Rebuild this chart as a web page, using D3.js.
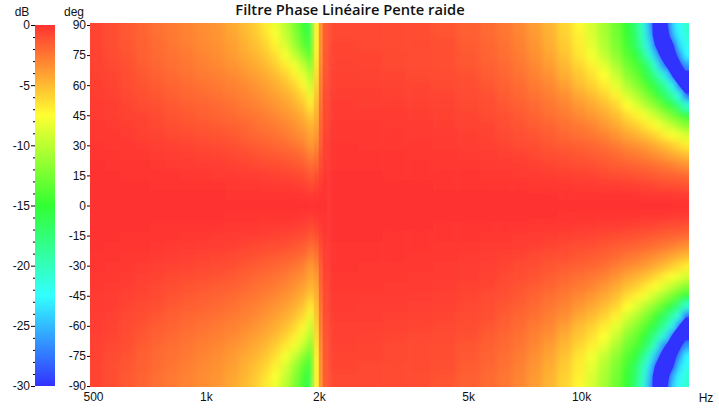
<!DOCTYPE html>
<html><head><meta charset="utf-8">
<script src="https://cdn.jsdelivr.net/npm/d3@7"></script>
<style>
html,body{margin:0;padding:0;background:#fff}
svg{display:block}
text{font-family:"Liberation Sans",Arial,sans-serif;font-size:12px;fill:#111}
</style></head><body>
<svg id="c" width="719" height="410"></svg>
<script>
const title = "Filtre Phase Linéaire Pente raide";
const freqTicks = [500,1000,2000,5000,10000];
const freqTickLabels = ["500","1k","2k","5k","10k"];
const angleTicks = [90,75,60,45,30,15,0,-15,-30,-45,-60,-75,-90];
const dbMajorTicks = [0,-5,-10,-15,-20,-25,-30];
const dbStops = [0,-7.5,-15,-22.5,-30];
const stopColors = ["#ff3232","#ffff32","#32ff32","#32ffff","#3232ff"];
// frequency of each column (Hz)
const frequencies = [522,572,627,688,754,827,907,994,1090,1195,1294,1376,1463,1555,1654,1758,1847,1952,
  2012,2062,2113,
  2179,2390,2786,3247,3785,4413,5144,5815,6375,6990,7665,8405,9215,10100,10870,11700,12595,13560,14240,14955,15520,16100,16705,17330,17975,18650,19350];
// columns that form the sharp cross-over notch
const notchFrequencies = [2012,2062,2113];
// off-axis angle of each row (deg) - the response is mirrored around 0
const angles = [90,85,80,75,70,65,60,55,50,45,40,35,30,25,20,15,10,5,0];
// level in dB, one row per angle, one value per frequency
const levels = [
[-.7,-1,-1.4,-1.8,-2.3,-2.6,-3,-3.3,-3.7,-4.3,-5,-5.7,-6.7,-8.2,-10,-12.2,-14.6,-16.5,-7,-3.5,-1.5,-.8,-.8,-.8,-.9,-1,-1.3,-1.7,-2,-2.5,-3.1,-3.9,-4.8,-6,-7.3,-9,-10.8,-12.8,-15,-17.5,-21,-26,-35,-35,-30,-23.5,-22.5,-20.5],
[-.7,-1,-1.4,-1.8,-2.2,-2.6,-2.9,-3.3,-3.6,-4.2,-4.8,-5.5,-6.4,-7.6,-9.4,-11.7,-14.2,-16,-7,-3.5,-1.5,-.8,-.8,-.8,-.9,-1,-1.2,-1.6,-2,-2.5,-3,-3.8,-4.7,-5.8,-7,-8.8,-10.6,-12.6,-14.8,-17,-20.5,-25,-35,-35,-32,-25,-22.5,-21],
[-.7,-1,-1.3,-1.7,-2.1,-2.5,-2.8,-3.2,-3.5,-4,-4.6,-5.2,-5.9,-7,-8.8,-11,-13.4,-15.5,-7,-3.4,-1.5,-.7,-.7,-.8,-.9,-.9,-1.1,-1.5,-1.9,-2.3,-2.9,-3.6,-4.5,-5.6,-6.8,-8.4,-10.2,-12.2,-14.5,-16.8,-19.8,-23.5,-31,-35,-35,-30,-23.5,-22],
[-.6,-.9,-1.2,-1.6,-2,-2.3,-2.6,-3,-3.3,-3.8,-4.3,-4.8,-5.4,-6.3,-7.8,-9.6,-11.8,-14.3,-6.8,-3.3,-1.4,-.7,-.7,-.7,-.8,-.9,-1,-1.4,-1.8,-2.2,-2.7,-3.4,-4.2,-5.3,-6.6,-7.9,-9.7,-11.6,-13.7,-15.2,-18,-21,-25,-33,-35,-33,-27,-22.5],
[-.6,-.8,-1.1,-1.5,-1.9,-2.2,-2.5,-2.8,-3.1,-3.5,-4,-4.4,-4.9,-5.7,-6.7,-8,-9.8,-12.5,-6.5,-3.1,-1.4,-.6,-.6,-.7,-.8,-.9,-1,-1.3,-1.7,-2,-2.5,-3.1,-3.9,-4.9,-6,-7,-8.5,-10.6,-12.8,-14,-15.8,-18,-21,-26,-33,-35,-32,-26],
[-.5,-.7,-1,-1.3,-1.7,-2,-2.3,-2.6,-2.8,-3.2,-3.6,-4,-4.4,-5,-5.8,-6.9,-8.4,-11,-6.2,-2.9,-1.3,-.5,-.5,-.6,-.7,-.8,-.9,-1.1,-1.5,-1.9,-2.3,-2.9,-3.5,-4.5,-5.5,-6.4,-7.5,-9.4,-11.8,-13,-14.8,-16.5,-18.5,-20.8,-24,-33,-35,-33],
[-.4,-.6,-.9,-1.2,-1.5,-1.8,-2.1,-2.3,-2.6,-2.9,-3.2,-3.6,-4,-4.5,-5.1,-6,-7.2,-9.7,-5.8,-2.7,-1.2,-.5,-.5,-.5,-.6,-.7,-.8,-1,-1.3,-1.7,-2.1,-2.6,-3.1,-4,-5,-5.8,-6.8,-8.4,-10.5,-11.8,-13.4,-14.6,-16.2,-18,-20,-23,-31,-35],
[-.4,-.5,-.8,-1,-1.3,-1.6,-1.9,-2.1,-2.3,-2.6,-2.9,-3.2,-3.6,-4,-4.5,-5.2,-6.2,-8.3,-5.4,-2.5,-1.1,-.4,-.4,-.4,-.5,-.6,-.7,-.9,-1.1,-1.5,-1.9,-2.3,-2.8,-3.4,-4.3,-5,-5.9,-7,-9,-10.3,-11.7,-12.9,-14.6,-16,-17.7,-19.5,-22,-29],
[-.3,-.4,-.7,-.9,-1.1,-1.4,-1.6,-1.8,-2,-2.3,-2.6,-2.9,-3.2,-3.6,-4,-4.6,-5.3,-7,-5,-2.3,-1,-.3,-.3,-.4,-.4,-.5,-.6,-.8,-1,-1.3,-1.6,-2,-2.5,-3,-3.7,-4.3,-5,-6,-7.5,-8.6,-9.9,-10.9,-12,-13.4,-14.7,-16.2,-18,-21],
[-.3,-.4,-.6,-.7,-.9,-1.2,-1.4,-1.6,-1.8,-2,-2.3,-2.5,-2.8,-3.1,-3.5,-4,-4.6,-5.8,-4.6,-2.1,-.9,-.3,-.3,-.3,-.3,-.4,-.5,-.7,-.9,-1.1,-1.4,-1.8,-2.2,-2.6,-3.2,-3.7,-4.3,-5.1,-6.3,-7,-7.9,-8.7,-9.7,-10.7,-11.8,-12.8,-14,-15.5],
[-.2,-.3,-.4,-.6,-.8,-1,-1.2,-1.3,-1.5,-1.7,-1.9,-2.2,-2.4,-2.7,-3,-3.5,-4,-4.9,-4.2,-1.9,-.8,-.2,-.2,-.2,-.3,-.3,-.4,-.6,-.7,-1,-1.2,-1.5,-1.8,-2.2,-2.6,-3,-3.6,-4.3,-5.2,-5.7,-6.4,-7,-7.7,-8.4,-9.2,-10,-11,-12],
[-.2,-.2,-.3,-.5,-.6,-.8,-.9,-1.1,-1.2,-1.4,-1.6,-1.9,-2.1,-2.3,-2.6,-3,-3.4,-4.3,-3.7,-1.7,-.7,-.2,-.2,-.2,-.2,-.3,-.3,-.4,-.6,-.8,-1,-1.2,-1.5,-1.9,-2.2,-2.5,-2.9,-3.5,-4.2,-4.6,-5.1,-5.5,-6,-6.6,-7.2,-7.7,-8.3,-9],
[-.1,-.2,-.2,-.3,-.5,-.6,-.7,-.8,-.9,-1.1,-1.3,-1.5,-1.7,-1.9,-2.1,-2.4,-2.8,-3.9,-3.1,-1.5,-.6,-.1,-.1,-.2,-.2,-.2,-.3,-.4,-.5,-.7,-.9,-1,-1.3,-1.5,-1.7,-1.9,-2.2,-2.7,-3.2,-3.5,-3.8,-4.1,-4.5,-4.9,-5.3,-5.8,-6.3,-6.9],
[-.1,-.1,-.2,-.2,-.3,-.4,-.5,-.6,-.7,-.8,-1,-1.1,-1.3,-1.4,-1.6,-1.8,-2.1,-3,-2.4,-1.2,-.5,-.1,-.1,-.1,-.1,-.2,-.2,-.3,-.4,-.5,-.6,-.8,-1,-1.1,-1.3,-1.5,-1.7,-2,-2.4,-2.6,-2.9,-3.1,-3.4,-3.7,-4,-4.3,-4.6,-5],
[0,-.1,-.1,-.1,-.2,-.3,-.3,-.4,-.4,-.5,-.7,-.8,-.9,-1,-1.1,-1.3,-1.5,-2.2,-1.8,-.9,-.4,-.1,-.1,-.1,-.1,-.1,-.2,-.2,-.3,-.3,-.4,-.5,-.7,-.8,-1,-1.1,-1.3,-1.5,-1.7,-1.8,-2,-2.1,-2.3,-2.5,-2.7,-2.9,-3.2,-3.5],
[0,0,-.1,-.1,-.1,-.1,-.2,-.2,-.3,-.3,-.4,-.4,-.5,-.6,-.7,-.8,-.9,-1.5,-1.1,-.6,-.2,0,0,0,-.1,-.1,-.1,-.1,-.2,-.2,-.3,-.3,-.4,-.5,-.6,-.7,-.8,-1,-1.1,-1.2,-1.3,-1.4,-1.5,-1.6,-1.7,-1.8,-1.9,-2.1],
[0,0,0,0,-.1,-.1,-.1,-.1,-.1,-.2,-.2,-.2,-.3,-.3,-.3,-.4,-.5,-.9,-.6,-.3,-.1,0,0,0,0,0,-.1,-.1,-.1,-.1,-.1,-.2,-.2,-.2,-.3,-.3,-.4,-.4,-.5,-.6,-.7,-.7,-.8,-.9,-1,-1.1,-1.1,-1.2],
[0,0,0,0,0,0,0,0,0,-.1,-.1,-.1,-.1,-.1,-.1,-.1,-.2,-.3,-.2,-.1,-.1,0,0,0,0,0,0,0,0,0,0,0,0,-.1,-.1,-.1,-.1,-.1,-.1,-.1,-.2,-.2,-.2,-.2,-.2,-.3,-.3,-.3],
[0,0,0,0,0,0,0,0,0,0,0,0,0,0,0,0,0,0,0,0,0,0,0,0,0,0,0,0,0,0,0,0,0,0,0,0,0,0,0,0,0,0,0,0,0,0,0,0]
];

const svg = d3.select("#c");
const x = d3.scaleLog().domain([500,20000]).range([90,691]);
const y = d3.scaleLinear().domain([90,-90]).range([25,386]);
const dbY = d3.scaleLinear().domain([0,-30]).range([25,386]);
const color = d3.scaleLinear().domain(dbStops).range(stopColors).clamp(true);

const defs = svg.append("defs");
defs.append("clipPath").attr("id","plot").append("rect").attr("x",90).attr("y",23).attr("width",599).attr("height",364);
const blur = defs.append("filter").attr("id","soft").attr("filterUnits","userSpaceOnUse")
  .attr("x",0).attr("y",-60).attr("width",800).attr("height",540);
blur.append("feGaussianBlur").attr("stdDeviation","3 3.5");
const blurY = defs.append("filter").attr("id","softY").attr("filterUnits","userSpaceOnUse")
  .attr("x",0).attr("y",-60).attr("width",800).attr("height",540);
blurY.append("feGaussianBlur").attr("stdDeviation","0 3.5");
const grad = defs.append("linearGradient").attr("id","bar").attr("x1",0).attr("x2",0).attr("y1",0).attr("y2",1);
dbStops.forEach((d,i)=>grad.append("stop").attr("offset",i/(dbStops.length-1)).attr("stop-color",stopColors[i]));

// cell edges in data units: mid-points between neighbours, outer cells run past the plot
const fEdge = i => i<=0 ? 300 : i>=frequencies.length ? 40000 : Math.sqrt(frequencies[i-1]*frequencies[i]);
const cells = [];
angles.forEach((a,r)=>{
  const signs = a===0 ? [1] : [1,-1];
  signs.forEach(s=>{
    const hi = r===0 ? 125 : (a+angles[r-1])/2;
    const lo = a===0 ? -2.5 : (a+angles[r+1])/2;
    const top = a===0 ? 2.5 : hi, bot = a===0 ? -2.5 : lo;
    frequencies.forEach((f,c)=>{
      cells.push({f,c,db:levels[r][c],a0:s>0?top:-bot,a1:s>0?bot:-top});
    });
  });
});
const drawCells = (g,data)=>g.selectAll("rect").data(data).join("rect")
  .attr("x",d=>x(fEdge(d.c)))
  .attr("width",d=>x(fEdge(d.c+1))-x(fEdge(d.c))+(notchFrequencies.includes(d.f)?0:.6))
  .attr("y",d=>y(d.a0))
  .attr("height",d=>y(d.a1)-y(d.a0)+.6)
  .attr("fill",d=>color(d.db));
const plot = svg.append("g").attr("clip-path","url(#plot)");
drawCells(plot.append("g").attr("filter","url(#soft)"),cells);
drawCells(plot.append("g").attr("filter","url(#softY)"),cells.filter(d=>notchFrequencies.includes(d.f)));

// The saturated -30 dB null keeps a crisp edge: trace it with d3.contours over the same values.
const fullAngles = [125,...angles,...angles.slice(0,-1).reverse().map(a=>-a),-125];
const fullFreqs = [...frequencies,40000];
const rowOf = a => levels[angles.indexOf(Math.abs(a)===125?90:Math.abs(a))];
const grid = fullAngles.flatMap(a=>{const row=rowOf(a);return [...row,row[row.length-1]];});
const nullShape = d3.contours().size([fullFreqs.length,fullAngles.length]).smooth(true).thresholds([30])(grid.map(v=>-v))[0];
const at = (arr,t)=>{const i=Math.max(0,Math.min(arr.length-2,Math.floor(t)));return [arr[i],arr[i+1],t-i];};
const toX = p=>{const [a,b,k]=at(fullFreqs.map(f=>x(f)),p-.5);return a+(b-a)*k;};
const toY = p=>{const [a,b,k]=at(fullAngles.map(v=>y(v)),p-.5);return a+(b-a)*k;};
const pathD = nullShape.coordinates.map(poly=>poly.map(ring=>"M"+ring.map(([px,py])=>toX(px)+","+toY(py)).join("L")+"Z").join("")).join("");
plot.append("path").attr("d",pathD).attr("fill",color(-30)).attr("fill-rule","evenodd");

// colour bar
svg.append("rect").attr("x",35).attr("y",25).attr("width",20).attr("height",361).attr("fill","url(#bar)");
const dbAxis = d3.axisLeft(dbY).tickValues(d3.range(0,-31,-1)).tickSizeOuter(0)
  .tickFormat(d=>dbMajorTicks.includes(d)?String(d):"");
const dbG = svg.append("g").attr("transform","translate(35,0)").call(dbAxis);
dbG.select(".domain").remove();
dbG.selectAll(".tick line").attr("stroke","#000").attr("x2",d=>dbMajorTicks.includes(d)?-4:-2);
dbG.selectAll(".tick text").attr("x",-5);

// angle axis
const angAxis = d3.axisLeft(y).tickValues(angleTicks).tickSize(3).tickFormat(d=>String(d));
const angG = svg.append("g").attr("transform","translate(90,0)").call(angAxis);
angG.select(".domain").remove();
angG.selectAll(".tick line").attr("stroke","#000");
angG.selectAll(".tick text").attr("x",-4);

// frequency axis
const fAxis = d3.axisBottom(x).tickValues(freqTicks).tickSize(0)
  .tickFormat(d=>freqTickLabels[freqTicks.indexOf(d)]);
const fG = svg.append("g").attr("transform","translate(3,386)").call(fAxis);
fG.select(".domain").remove();
fG.selectAll(".tick text").attr("y",6);

svg.selectAll("g text").style("font-family",'"Liberation Sans",Arial,sans-serif').style("font-size","12px").style("fill","#111");
svg.append("text").attr("x",22).attr("y",16).attr("text-anchor","middle").text("dB");
svg.append("text").attr("x",74).attr("y",16).attr("text-anchor","middle").text("deg");
svg.append("text").attr("x",706).attr("y",402).attr("text-anchor","middle").text("Hz");
svg.append("text").attr("x",350).attr("y",14.5).attr("text-anchor","middle")
  .style("font-family",'"Open Sans",sans-serif').style("font-weight",600).style("font-size","14.7px").text(title);
</script>
</body></html>
